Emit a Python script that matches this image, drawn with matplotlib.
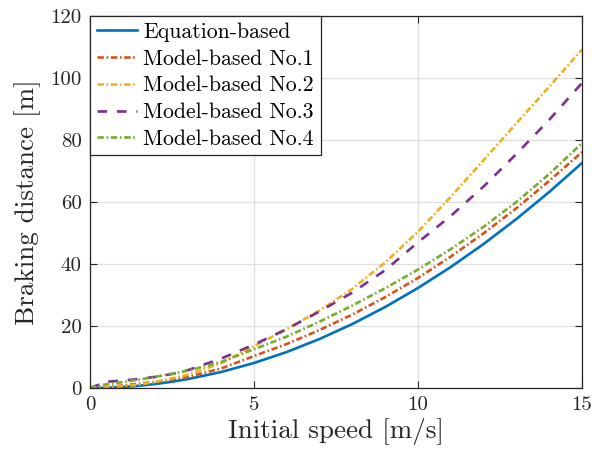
import matplotlib
matplotlib.use("Agg")
import matplotlib.pyplot as plt

plt.rcParams['font.family'] = ['cmr10', 'DejaVu Serif']
plt.rcParams['mathtext.fontset'] = 'cm'
plt.rcParams['axes.unicode_minus'] = False
plt.rcParams['lines.scale_dashes'] = False

speed = [0, 0.5, 1, 1.5, 2, 2.5, 3, 4, 5, 6, 7, 8, 9, 10, 11, 12, 13, 14, 15]
equation_based = [0, 0.08, 0.32, 0.73, 1.29, 2.02, 2.90, 5.16, 8.06, 11.61, 15.81,
                  20.65, 26.13, 32.26, 39.03, 46.45, 54.52, 63.23, 72.58]
model_no1 = [0, 0.3, 0.8, 1.4, 2.0, 2.8, 3.6, 6.3, 10.3, 14.2, 18.7, 23.7, 29.3,
             35.5, 42.4, 49.9, 58.0, 66.8, 76.1]
model_no2 = [0, 0.2, 0.6, 1.1, 2.0, 3.1, 4.3, 8.0, 13.5, 19.0, 25.0, 32.0, 40.5,
             50.4, 61.7, 73.5, 85.4, 97.2, 109.2]
model_no3 = [0, 2.0, 2.4, 2.9, 3.6, 4.5, 5.8, 9.5, 14.0, 19.0, 24.7, 30.8, 38.0,
             47.0, 55.5, 65.0, 75.5, 86.5, 98.4]
model_no4 = [0, 1.2, 1.9, 2.7, 3.6, 4.6, 5.6, 8.4, 12.5, 16.6, 21.4, 26.6, 32.2,
             38.2, 44.8, 52.0, 60.0, 69.0, 79.0]

labels = ['Equation-based', 'Model-based No.1', 'Model-based No.2',
          'Model-based No.3', 'Model-based No.4']
colors = ['#0072BD', '#D95319', '#EDB120', '#7E2F8E', '#77AC30']
x_ticks = [0, 5, 10, 15]
y_ticks = [0, 20, 40, 60, 80, 100, 120]

fig = plt.figure(figsize=(6.06, 4.55), dpi=100)
ax = fig.add_axes([0.1485, 0.1473, 0.8119, 0.8175])

dashdot = (0, (4.6, 1.9, 1.2, 1.9))
dashed = (0, (7.0, 7.0))
styles = ['-', dashdot, dashdot, dashed, dashdot]
series = [equation_based, model_no1, model_no2, model_no3, model_no4]
for ys, lab, c, ls in zip(series, labels, colors, styles):
    ax.plot(speed, ys, color=c, linestyle=ls, linewidth=1.9, label=lab)

ax.set_xlim(0, 15)
ax.set_ylim(0, 120)
ax.set_xticks(x_ticks)
ax.set_yticks(y_ticks)
ax.set_xticklabels([str(t) for t in x_ticks])
ax.set_yticklabels([str(t) for t in y_ticks])
ax.tick_params(direction='in', length=5, width=0.8, colors='#262626',
               labelsize=15, top=True, right=True, pad=6)
ax.grid(True, color='#DFDFDF', linewidth=0.9)
ax.set_axisbelow(True)
for s in ax.spines.values():
    s.set_color('#262626')
    s.set_linewidth(0.9)

ax.set_xlabel('Initial speed [m/s]', fontsize=19.5, color='#262626', labelpad=3)
ax.set_ylabel('Braking distance [m]', fontsize=19.5, color='#262626', labelpad=7)

leg = ax.legend(loc='upper left', fontsize=15.7, frameon=True, fancybox=False,
                edgecolor='#262626', framealpha=1, borderaxespad=0,
                handlelength=1.85, handletextpad=0.3, labelspacing=0.33,
                borderpad=0.3)
leg.get_frame().set_linewidth(0.9)

fig.savefig('out.png', dpi=100)
